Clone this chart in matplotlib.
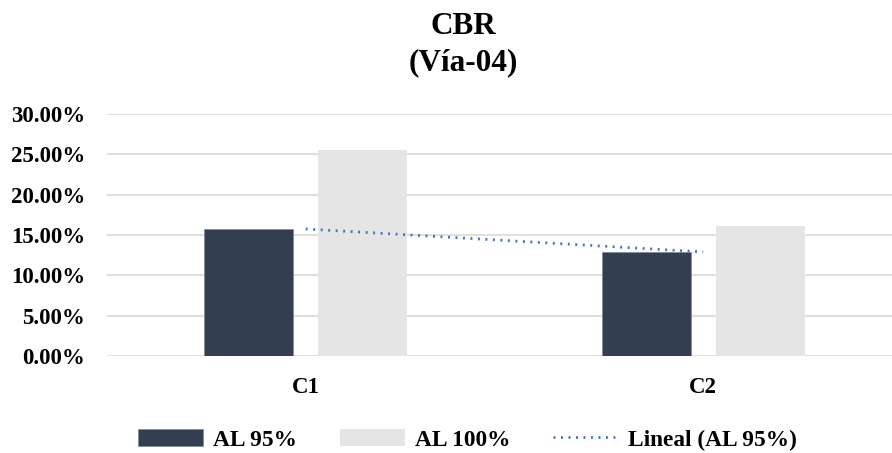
import matplotlib
matplotlib.use("Agg")
import matplotlib.pyplot as plt
import numpy as np
from matplotlib.ticker import PercentFormatter

categories = ["C1", "C2"]
al95 = [0.1575, 0.129]
al100 = [0.255, 0.161]
series_names = ["AL 95%", "AL 100%", "Lineal (AL 95%)"]
title_lines = ["CBR", "(Vía-04)"]

plt.rcParams['font.family'] = ['Liberation Serif', 'DejaVu Serif']
plt.rcParams['font.weight'] = 'bold'

W, H = 892, 453
fig = plt.figure(figsize=(W / 100, H / 100), dpi=100)
ax = fig.add_axes([107 / W, (H - 356) / H, (892 - 107) / W, 242 / H])

x = np.arange(len(categories))
bw = 0.224
off = 0.143
c95 = "#333F50"
c100 = "#E5E5E5"
b1 = ax.bar(x - off, al95, bw, color=c95, edgecolor="#7f8894", linewidth=0.5, label=series_names[0], zorder=3)
b2 = ax.bar(x + off, al100, bw, color=c100, label=series_names[1], zorder=3)

coef = np.polyfit(x, al95, 1)
ln, = ax.plot(x, np.polyval(coef, x), color="#4472C4", lw=2.0, linestyle=(0, (0.7, 2.0)),
              label=series_names[2], zorder=4)

ax.set_xlim(-0.5, 1.475)
ax.set_ylim(0, 0.30)
ax.set_yticks(np.arange(0, 0.301, 0.05))
ax.yaxis.set_major_formatter(PercentFormatter(1.0, decimals=2))
ax.set_xticks(x)
ax.set_xticklabels(categories)
ax.grid(axis='y', color="#D9D9D9", lw=1.2, zorder=0)
ax.set_axisbelow(True)
for s in ax.spines.values():
    s.set_visible(False)
ax.tick_params(axis='both', length=0, labelsize=16.5)
ax.tick_params(axis='y', pad=16)
ax.tick_params(axis='x', pad=15)
for lab in ax.get_xticklabels() + ax.get_yticklabels():
    lab.set_fontweight('bold')

fig.text(463 / W, 1 - 27 / H, title_lines[0], ha='center', va='center', fontsize=22.5, fontweight='bold')
fig.text(463 / W, 1 - 63 / H, title_lines[1], ha='center', va='center', fontsize=22.5, fontweight='bold')

fig.legend([b1, b2, ln], series_names, loc='center', bbox_to_anchor=(467.5 / W, 1 - 440 / H),
           ncol=3, frameon=False, handlelength=2.8, handletextpad=0.4, columnspacing=1.85,
           prop={'weight': 'bold', 'size': 16.8})

fig.savefig("out.png", dpi=100)
